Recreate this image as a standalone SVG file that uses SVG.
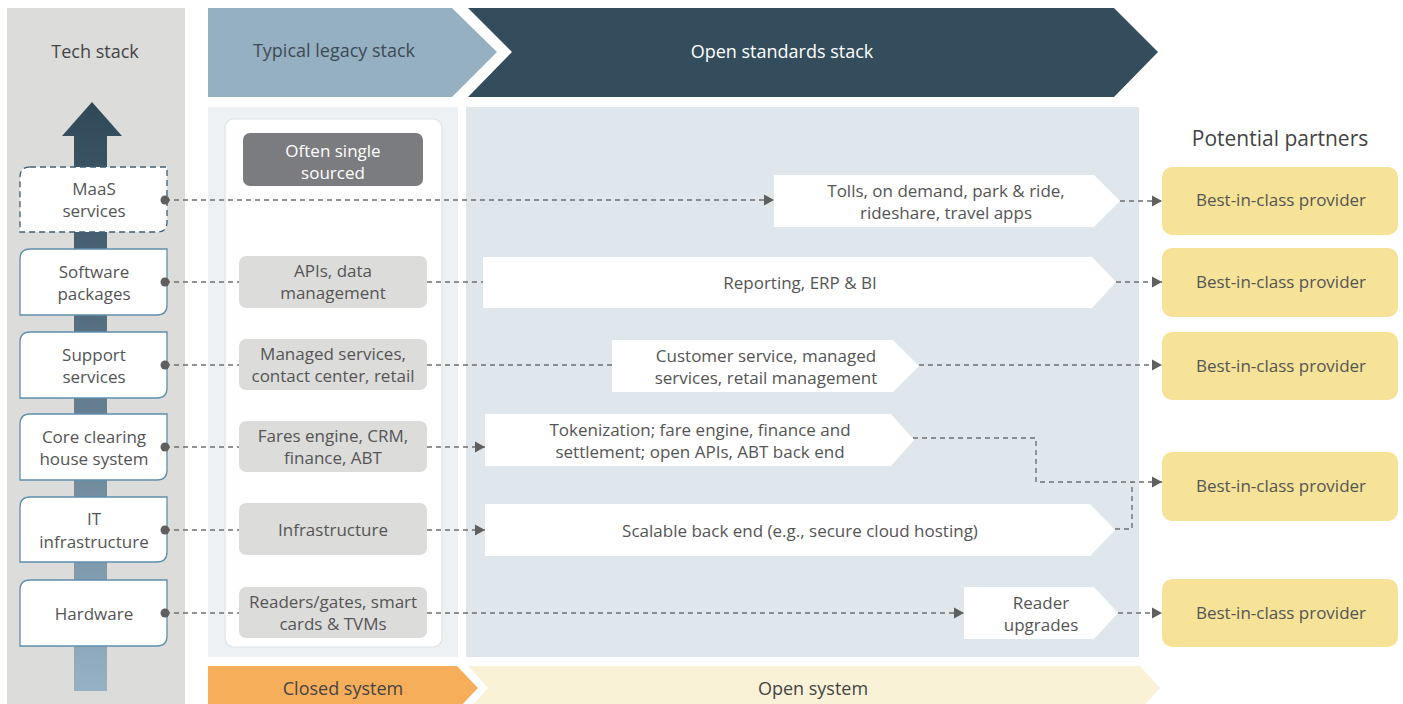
<svg xmlns="http://www.w3.org/2000/svg" width="1403" height="704" viewBox="0 0 1403 704">
<defs>
<linearGradient id="stackGrad" x1="0" y1="102" x2="0" y2="691" gradientUnits="userSpaceOnUse">
<stop offset="0" stop-color="#2f4858"/>
<stop offset="1" stop-color="#96b1c3"/>
</linearGradient>
<marker id="arr" markerUnits="userSpaceOnUse" markerWidth="11" markerHeight="12" refX="10" refY="6" orient="auto">
<path d="M0,0.5 L10,6 L0,11.5 z" fill="#5f5f5f"/>
</marker>
<style>
text{font-family:"Open Sans","Noto Sans","Liberation Sans",sans-serif;font-size:17px;fill:#555;text-anchor:middle}
.hdr{font-size:18px;fill:#444}
.wt{fill:#fff}
.tech{fill:#fff;stroke:#5f8fac;stroke-width:1.3}
.leg{fill:#dcdcdb}
.open{fill:#fff}
.prov{fill:#f6e397}
.dash{fill:none;stroke:#6f6f6f;stroke-width:1.4;stroke-dasharray:5 4}
.dot{fill:#5f5f5f}
</style>
</defs>
<rect width="1403" height="704" fill="#fff"/>
<!-- backgrounds -->
<g id="tech-column">
<rect x="7" y="8" width="178" height="700" fill="#dcdcdb"/>
<text class="hdr" x="95" y="58">Tech stack</text>
<polygon points="92,102 122,136 107,136 107,691 74,691 74,136 62,136" fill="url(#stackGrad)"/>
</g>
<g id="legacy-header">
<polygon points="208,8 452,8 497,52 452,97 208,97" fill="#95b0c1"/>
<text class="hdr" x="334" y="57" style="fill:#3d4a54">Typical legacy stack</text>
</g>
<g id="open-header">
<polygon points="468,8 1114,8 1158,52 1114,97 468,97 512,52" fill="#344d5c"/>
<text class="hdr wt" x="782" y="58">Open standards stack</text>
</g>
<g id="legacy-column">
<rect x="208" y="107" width="250" height="550" fill="#edf1f4"/>
<rect x="225" y="119" width="217" height="528" rx="9" fill="#fff" stroke="#dde3e8" stroke-width="1.2"/>
</g>
<g id="open-column">
<rect x="466" y="107" width="673" height="550" fill="#dfe7ed"/>
</g>
<g id="closed-band">
<polygon points="208,666 457,666 478,688 457,710 208,710" fill="#f7ae5a"/>
<text class="hdr" x="343" y="695" style="fill:#444">Closed system</text>
</g>
<g id="open-band">
<polygon points="468,666 1140,666 1160,688 1140,710 468,710 488,688" fill="#faf2d7"/>
<text class="hdr" x="813" y="695" style="fill:#444">Open system</text>
</g>
<text class="hdr" x="1280" y="146" style="font-size:21px;fill:#444">Potential partners</text>

<!-- connectors -->
<g id="connectors">
<path class="dash" d="M165,200 H774" marker-end="url(#arr)"/>
<path class="dash" d="M1120,201 H1162" marker-end="url(#arr)"/>
<path class="dash" d="M165,282 H239"/>
<path class="dash" d="M427,282 H483"/>
<path class="dash" d="M1116,282 H1162" marker-end="url(#arr)"/>
<path class="dash" d="M165,365 H239"/>
<path class="dash" d="M427,365 H612"/>
<path class="dash" d="M919,365 H1162" marker-end="url(#arr)"/>
<path class="dash" d="M165,447 H239"/>
<path class="dash" d="M427,447 H485" marker-end="url(#arr)"/>
<path class="dash" d="M913,438 H1036 V482 H1162" marker-end="url(#arr)"/>
<path class="dash" d="M165,530 H239"/>
<path class="dash" d="M427,530 H485" marker-end="url(#arr)"/>
<path class="dash" d="M1115,529 H1132 V482"/>
<path class="dash" d="M165,613 H239"/>
<path class="dash" d="M427,613 H964" marker-end="url(#arr)"/>
<path class="dash" d="M1118,613 H1162" marker-end="url(#arr)"/>
</g>

<!-- tech stack nodes -->
<g id="t-maas">
<path d="M30,167 H167 V222 Q167,232 157,232 H20 V177 Q20,167 30,167 Z" fill="#fff" stroke="#3f5f74" stroke-width="1.3" stroke-dasharray="6 4"/>
<text x="94" y="195">MaaS</text><text x="94" y="217">services</text>
<circle class="dot" cx="165" cy="200" r="4.5"/>
</g>
<g id="t-software">
<path class="tech" d="M30,249 H167 V305 Q167,315 157,315 H20 V259 Q20,249 30,249 Z"/>
<text x="94" y="278">Software</text><text x="94" y="300">packages</text>
<circle class="dot" cx="165" cy="282" r="4.5"/>
</g>
<g id="t-support">
<path class="tech" d="M30,332 H167 V388 Q167,398 157,398 H20 V342 Q20,332 30,332 Z"/>
<text x="94" y="361">Support</text><text x="94" y="383">services</text>
<circle class="dot" cx="165" cy="365" r="4.5"/>
</g>
<g id="t-core">
<path class="tech" d="M30,414 H167 V470 Q167,480 157,480 H20 V424 Q20,414 30,414 Z"/>
<text x="94" y="443">Core clearing</text><text x="94" y="465">house system</text>
<circle class="dot" cx="165" cy="447" r="4.5"/>
</g>
<g id="t-it">
<path class="tech" d="M30,497 H167 V552 Q167,562 157,562 H20 V507 Q20,497 30,497 Z"/>
<text x="94" y="525">IT</text><text x="94" y="548">infrastructure</text>
<circle class="dot" cx="165" cy="530" r="4.5"/>
</g>
<g id="t-hardware">
<path class="tech" d="M30,580 H167 V636 Q167,646 157,646 H20 V590 Q20,580 30,580 Z"/>
<text x="94" y="620">Hardware</text>
<circle class="dot" cx="165" cy="613" r="4.5"/>
</g>

<!-- legacy nodes -->
<g id="l-single">
<rect x="243" y="133" width="180" height="53" rx="7" fill="#7b7c7f"/>
<text class="wt" x="333" y="157">Often single</text><text class="wt" x="333" y="179">sourced</text>
</g>
<g id="l-apis">
<rect class="leg" x="239" y="256" width="188" height="52" rx="7"/>
<text x="333" y="277">APIs, data</text><text x="333" y="299">management</text>
</g>
<g id="l-managed">
<rect class="leg" x="239" y="339" width="188" height="51" rx="7"/>
<text x="333" y="360">Managed services,</text><text x="333" y="382">contact center, retail</text>
</g>
<g id="l-fares">
<rect class="leg" x="239" y="421" width="188" height="51" rx="7"/>
<text x="333" y="442">Fares engine, CRM,</text><text x="333" y="464">finance, ABT</text>
</g>
<g id="l-infra">
<rect class="leg" x="239" y="503" width="188" height="52" rx="7"/>
<text x="333" y="536">Infrastructure</text>
</g>
<g id="l-readers">
<rect class="leg" x="239" y="587" width="188" height="51" rx="7"/>
<text x="333" y="608">Readers/gates, smart</text><text x="333" y="630">cards &amp; TVMs</text>
</g>

<!-- open stack nodes -->
<g id="o-tolls">
<polygon class="open" points="774,175 1094,175 1120,201 1094,227 774,227"/>
<text x="946" y="197">Tolls, on demand, park &amp; ride,</text><text x="946" y="219">rideshare, travel apps</text>
</g>
<g id="o-reporting">
<polygon class="open" points="483,257 1092,257 1116,282 1092,308 483,308"/>
<text x="800" y="289">Reporting, ERP &amp; BI</text>
</g>
<g id="o-customer">
<polygon class="open" points="612,340 893,340 919,366 893,392 612,392"/>
<text x="766" y="362">Customer service, managed</text><text x="766" y="384">services, retail management</text>
</g>
<g id="o-token">
<polygon class="open" points="485,414 891,414 914,440 891,466 485,466"/>
<text x="700" y="436">Tokenization; fare engine, finance and</text><text x="700" y="458">settlement; open APIs, ABT back end</text>
</g>
<g id="o-scalable">
<polygon class="open" points="485,504 1090,504 1115,530 1090,556 485,556"/>
<text x="800" y="537">Scalable back end (e.g., secure cloud hosting)</text>
</g>
<g id="o-reader">
<polygon class="open" points="964,587 1094,587 1118,613 1094,639 964,639"/>
<text x="1041" y="609">Reader</text><text x="1041" y="631">upgrades</text>
</g>

<!-- providers -->
<g id="p1"><rect class="prov" x="1162" y="167" width="236" height="68" rx="10"/><text x="1281" y="206">Best-in-class provider</text></g>
<g id="p2"><rect class="prov" x="1162" y="248" width="236" height="69" rx="10"/><text x="1281" y="288">Best-in-class provider</text></g>
<g id="p3"><rect class="prov" x="1162" y="332" width="236" height="68" rx="10"/><text x="1281" y="372">Best-in-class provider</text></g>
<g id="p4"><rect class="prov" x="1162" y="452" width="236" height="69" rx="10"/><text x="1281" y="492">Best-in-class provider</text></g>
<g id="p5"><rect class="prov" x="1162" y="579" width="236" height="68" rx="10"/><text x="1281" y="619">Best-in-class provider</text></g>
</svg>
